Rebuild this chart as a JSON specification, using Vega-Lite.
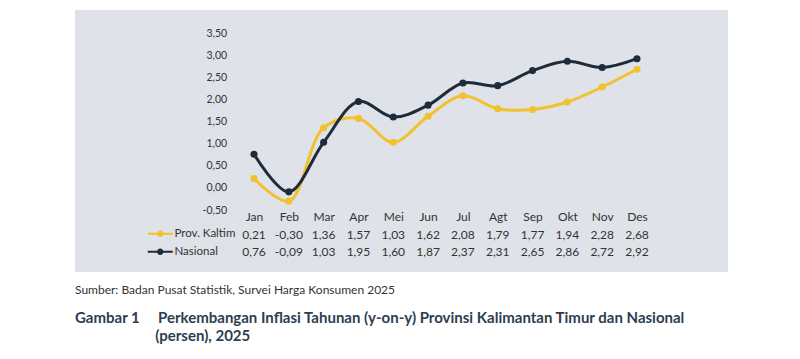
{
  "$schema": "https://vega.github.io/schema/vega-lite/v6.json",
  "autosize": "none",
  "width": 653,
  "height": 262,
  "padding": {"left": 75, "top": 10, "right": 72, "bottom": 87},
  "background": "#ffffff",
  "config": {
    "font": "Lato",
    "view": {"fill": "#dfe2e8", "stroke": null},
    "locale": {"number": {"decimal": ",", "thousands": ".", "grouping": [3], "currency": ["Rp", ""], "minus": "-"}},
    "axis": {"grid": false, "domain": false, "ticks": false, "labelFont": "Lato", "labelColor": "#333333", "labelFontSize": 12, "title": null}
  },
  "title": {
    "text": "Sumber: Badan Pusat Statistik, Survei Harga Konsumen 2025",
    "subtitle": ["Gambar 1\u00a0\u00a0\u00a0\u00a0\u00a0Perkembangan Inflasi Tahunan (y-on-y) Provinsi Kalimantan Timur dan Nasional", "\u200b\u00a0\u00a0\u00a0\u00a0\u00a0\u00a0\u00a0\u00a0\u00a0\u00a0\u00a0\u00a0\u00a0\u00a0\u00a0\u00a0\u00a0\u00a0\u00a0\u00a0\u00a0\u00a0(persen), 2025"],
    "orient": "bottom",
    "anchor": "start",
    "offset": 13,
    "font": "Lato",
    "fontSize": 12,
    "fontWeight": "normal",
    "color": "#333333",
    "subtitleFont": "Lato",
    "subtitleFontSize": 15,
    "subtitleFontWeight": "bold",
    "subtitleColor": "#2c3e50",
    "subtitlePadding": 14,
    "subtitleLineHeight": 18
  },
  "data": {"values": [
    {"month": "Jan", "series": "Prov. Kaltim", "value": 0.21},
    {"month": "Feb", "series": "Prov. Kaltim", "value": -0.30},
    {"month": "Mar", "series": "Prov. Kaltim", "value": 1.36},
    {"month": "Apr", "series": "Prov. Kaltim", "value": 1.57},
    {"month": "Mei", "series": "Prov. Kaltim", "value": 1.03},
    {"month": "Jun", "series": "Prov. Kaltim", "value": 1.62},
    {"month": "Jul", "series": "Prov. Kaltim", "value": 2.08},
    {"month": "Agt", "series": "Prov. Kaltim", "value": 1.79},
    {"month": "Sep", "series": "Prov. Kaltim", "value": 1.77},
    {"month": "Okt", "series": "Prov. Kaltim", "value": 1.94},
    {"month": "Nov", "series": "Prov. Kaltim", "value": 2.28},
    {"month": "Des", "series": "Prov. Kaltim", "value": 2.68},
    {"month": "Jan", "series": "Nasional", "value": 0.76},
    {"month": "Feb", "series": "Nasional", "value": -0.09},
    {"month": "Mar", "series": "Nasional", "value": 1.03},
    {"month": "Apr", "series": "Nasional", "value": 1.95},
    {"month": "Mei", "series": "Nasional", "value": 1.60},
    {"month": "Jun", "series": "Nasional", "value": 1.87},
    {"month": "Jul", "series": "Nasional", "value": 2.37},
    {"month": "Agt", "series": "Nasional", "value": 2.31},
    {"month": "Sep", "series": "Nasional", "value": 2.65},
    {"month": "Okt", "series": "Nasional", "value": 2.86},
    {"month": "Nov", "series": "Nasional", "value": 2.72},
    {"month": "Des", "series": "Nasional", "value": 2.92}
  ]},
  "encoding": {
    "x": {
      "field": "month", "type": "nominal",
      "sort": ["Jan","Feb","Mar","Apr","Mei","Jun","Jul","Agt","Sep","Okt","Nov","Des"],
      "scale": {"type": "point", "domain": ["Jan","Feb","Mar","Apr","Mei","Jun","Jul","Agt","Sep","Okt","Nov","Des"], "range": [161.6, 579.4], "padding": 0.5},
      "axis": {"orient": "bottom", "offset": -62, "labelPadding": 1, "labelAngle": 0}
    }
  },
  "layer": [
    {
      "mark": {"type": "line", "interpolate": "catmull-rom", "strokeWidth": 3, "point": {"filled": true, "size": 50, "opacity": 1}},
      "encoding": {
        "y": {"field": "value", "type": "quantitative",
          "scale": {"domain": [-0.5, 3.5], "range": [200, 23], "nice": false, "zero": false},
          "axis": {"values": [-0.5, 0, 0.5, 1, 1.5, 2, 2.5, 3, 3.5], "format": ".2f", "offset": -161.6, "labelPadding": 10, "labelFontSize": 10.5}},
        "color": {"field": "series", "type": "nominal",
          "scale": {"domain": ["Prov. Kaltim", "Nasional"], "range": ["#f2c12e", "#1e2b38"]},
          "legend": {
            "orient": "none", "legendX": 79.5, "legendY": 218, "title": null,
            "symbolType": "M-2.5,-0.2H2.5V0.2H-2.5Z M0.65,0A0.65,0.65,0,1,1,-0.65,0A0.65,0.65,0,1,1,0.65,0Z",
            "symbolSize": 100, "symbolStrokeWidth": 0, "labelOffset": 8.5, "rowPadding": 5,
            "labelFont": "Lato", "labelFontSize": 11.5, "labelColor": "#333333", "padding": 0,
            "encode": {"symbols": {"update": {"fill": {"scale": "color", "field": "value"}, "strokeWidth": {"value": 0}, "opacity": {"value": 1}}}}
          }}
      }
    },
    {
      "mark": {"type": "text", "fontSize": 12, "color": "#333333", "font": "Lato"},
      "encoding": {
        "y": {"field": "series", "type": "nominal",
          "scale": {"type": "point", "domain": ["Prov. Kaltim", "Nasional"], "range": [225, 242], "padding": 0},
          "axis": null},
        "text": {"field": "value", "type": "quantitative", "format": ".2f"}
      }
    }
  ],
  "resolve": {"scale": {"y": "independent"}, "axis": {"y": "independent"}}
}
